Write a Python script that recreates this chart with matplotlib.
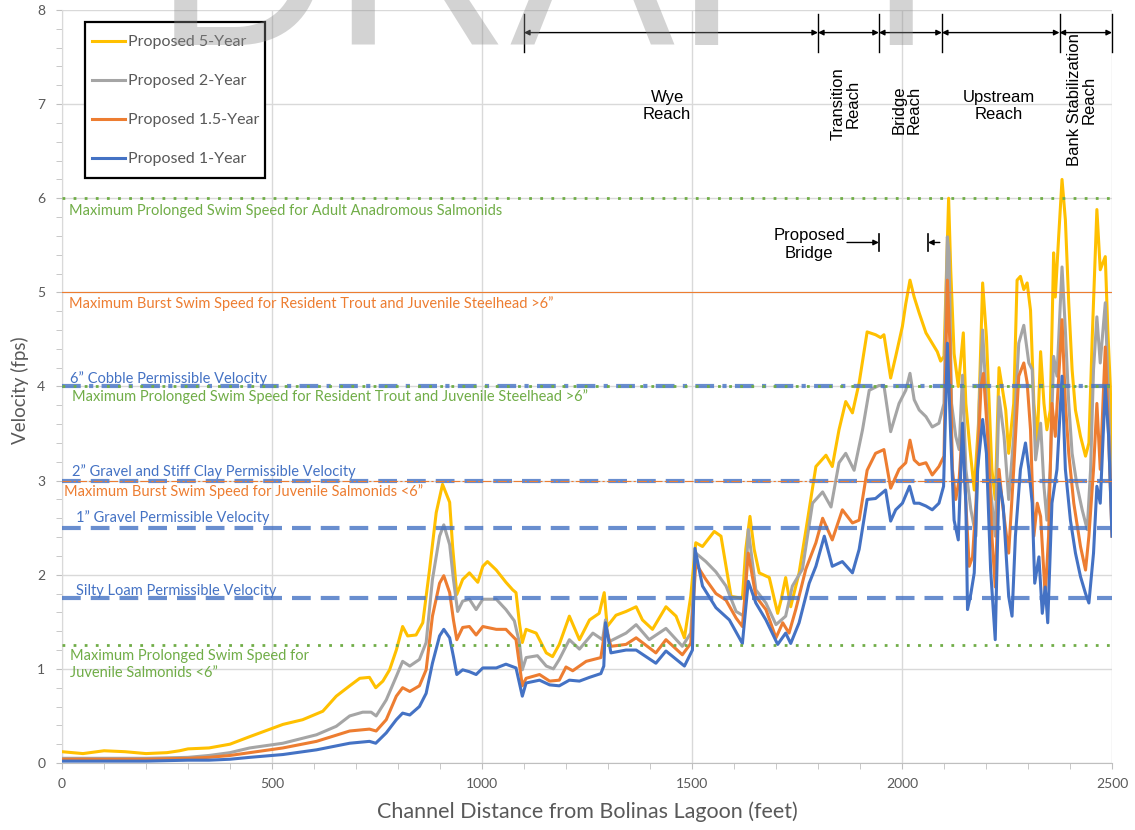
import matplotlib
matplotlib.use("Agg")
import matplotlib.pyplot as plt
from matplotlib.ticker import MultipleLocator
from matplotlib.lines import Line2D
from matplotlib.patches import Rectangle

# ---- data (feet, fps) ----
x_5yr = [0, 50, 100, 150, 200, 250, 280, 300, 350, 400, 447, 526, 573, 621, 653, 685, 709, 732, 747, 764,
         780, 796, 811, 823, 843, 859, 875, 891, 906, 923, 930, 940, 954, 970, 990, 1002, 1013, 1034, 1057,
         1073, 1081, 1089, 1096, 1105, 1129, 1153, 1168, 1184, 1208, 1232, 1256, 1279, 1291, 1298, 1319,
         1343, 1367, 1382, 1406, 1438, 1462, 1482, 1497, 1509, 1525, 1553, 1569, 1581, 1593, 1620, 1628,
         1638, 1648, 1660, 1684, 1704, 1712, 1723, 1735, 1755, 1775, 1795, 1819, 1834, 1850, 1866, 1882,
         1898, 1917, 1937, 1949, 1957, 1973, 1985, 2001, 2009, 2019, 2029, 2041, 2057, 2072, 2084, 2092,
         2100, 2106, 2111, 2116, 2124, 2134, 2146, 2152, 2162, 2172, 2182, 2192, 2201, 2214, 2222, 2231,
         2247, 2254, 2266, 2274, 2282, 2290, 2298, 2306, 2314, 2322, 2330, 2338, 2345, 2353, 2361, 2365,
         2373, 2381, 2389, 2397, 2405, 2413, 2425, 2437, 2445, 2453, 2464, 2472, 2484, 2490, 2496, 2500]
v_5yr = [0.12, 0.10, 0.13, 0.12, 0.10, 0.11, 0.13, 0.15, 0.16, 0.20, 0.28, 0.41, 0.46, 0.55, 0.71, 0.82, 0.90,
         0.91, 0.80, 0.87, 0.99, 1.20, 1.45, 1.35, 1.36, 1.49, 2.05, 2.66, 2.96, 2.77, 2.30, 1.79, 1.95, 2.02,
         1.92, 2.09, 2.14, 2.05, 1.92, 1.84, 1.81, 1.49, 1.28, 1.42, 1.38, 1.17, 1.13, 1.26, 1.56, 1.31, 1.52,
         1.59, 1.81, 1.45, 1.57, 1.61, 1.66, 1.52, 1.42, 1.66, 1.56, 1.33, 1.77, 2.34, 2.30, 2.46, 2.41, 2.09,
         1.77, 1.75, 2.27, 2.62, 2.27, 2.02, 1.97, 1.59, 1.73, 1.97, 1.66, 2.02, 2.58, 3.15, 3.27, 3.15, 3.54,
         3.84, 3.72, 4.04, 4.58, 4.55, 4.52, 4.55, 4.09, 4.32, 4.64, 4.88, 5.13, 4.95, 4.78, 4.57, 4.46, 4.37,
         4.27, 4.32, 5.24, 6.00, 5.24, 4.35, 4.00, 4.57, 3.82, 3.33, 2.90, 3.60, 5.10, 4.53, 3.12, 2.80, 4.20,
         3.75, 3.29, 3.82, 5.13, 5.17, 5.03, 5.10, 4.81, 3.82, 3.40, 4.37, 3.82, 3.54, 3.75, 5.42, 4.95, 5.59,
         6.20, 5.77, 4.89, 4.18, 3.75, 3.47, 3.26, 3.40, 4.53, 5.88, 5.24, 5.38, 4.60, 4.00, 3.05]

x_2yr = [0, 100, 200, 300, 350, 400, 447, 526, 606, 653, 685, 716, 736, 748, 772, 796, 811, 828, 851, 867,
         882, 899, 909, 923, 932, 942, 954, 970, 986, 1002, 1034, 1057, 1077, 1089, 1096, 1105, 1132, 1153,
         1170, 1184, 1208, 1232, 1264, 1287, 1294, 1303, 1343, 1367, 1398, 1438, 1477, 1497, 1509, 1533,
         1557, 1581, 1605, 1624, 1634, 1652, 1676, 1700, 1723, 1739, 1763, 1787, 1811, 1831, 1850, 1866,
         1886, 1906, 1922, 1945, 1957, 1973, 1993, 2009, 2019, 2029, 2041, 2057, 2072, 2088, 2100, 2108,
         2112, 2118, 2128, 2136, 2144, 2152, 2164, 2176, 2184, 2192, 2201, 2211, 2222, 2231, 2243, 2254,
         2266, 2278, 2290, 2302, 2310, 2318, 2330, 2338, 2345, 2353, 2361, 2369, 2381, 2389, 2397, 2405,
         2417, 2429, 2441, 2449, 2456, 2464, 2472, 2484, 2492, 2500]
v_2yr = [0.05, 0.05, 0.05, 0.06, 0.08, 0.11, 0.16, 0.21, 0.30, 0.39, 0.50, 0.54, 0.54, 0.50, 0.67, 0.92, 1.08,
         1.03, 1.10, 1.28, 1.95, 2.41, 2.53, 2.32, 1.95, 1.61, 1.72, 1.74, 1.63, 1.74, 1.74, 1.63, 1.51, 1.28,
         0.99, 1.12, 1.14, 1.03, 1.00, 1.10, 1.31, 1.21, 1.38, 1.31, 1.52, 1.29, 1.38, 1.47, 1.31, 1.43, 1.24,
         1.38, 2.23, 2.14, 2.03, 1.88, 1.61, 1.56, 2.48, 1.84, 1.70, 1.47, 1.56, 1.88, 2.06, 2.76, 2.88, 2.72,
         3.19, 3.29, 3.11, 3.54, 3.96, 4.01, 4.01, 3.52, 3.82, 3.96, 4.14, 3.86, 3.75, 3.68, 3.57, 3.61, 3.82,
         5.59, 5.42, 3.82, 3.47, 3.33, 4.12, 3.12, 2.69, 2.41, 3.82, 4.60, 3.82, 2.90, 2.41, 3.89, 3.47, 2.80,
         3.47, 4.46, 4.65, 4.25, 4.18, 3.22, 3.61, 2.94, 2.58, 3.12, 4.32, 4.11, 5.27, 4.60, 3.82, 3.29, 2.94,
         2.69, 2.48, 3.12, 4.18, 4.74, 4.25, 4.89, 3.82, 2.60]

x_15yr = [0, 200, 300, 350, 400, 447, 526, 606, 685, 732, 748, 772, 796, 811, 828, 851, 867, 882, 899, 909,
          923, 932, 940, 954, 970, 986, 1002, 1034, 1057, 1081, 1096, 1105, 1137, 1161, 1184, 1200, 1216,
          1248, 1283, 1294, 1307, 1343, 1367, 1414, 1438, 1477, 1497, 1509, 1533, 1557, 1581, 1605, 1620,
          1634, 1652, 1676, 1700, 1716, 1731, 1747, 1771, 1795, 1811, 1834, 1858, 1882, 1898, 1917, 1937,
          1957, 1973, 1993, 2009, 2019, 2029, 2041, 2057, 2072, 2088, 2100, 2108, 2114, 2120, 2128, 2136,
          2144, 2152, 2160, 2168, 2176, 2188, 2194, 2204, 2214, 2222, 2231, 2239, 2254, 2266, 2278, 2290,
          2298, 2306, 2314, 2322, 2330, 2341, 2349, 2357, 2365, 2381, 2389, 2397, 2409, 2425, 2437, 2445,
          2456, 2464, 2472, 2484, 2492, 2500]
v_15yr = [0.04, 0.04, 0.05, 0.06, 0.08, 0.11, 0.16, 0.23, 0.34, 0.36, 0.34, 0.46, 0.71, 0.80, 0.76, 0.82, 0.99,
          1.56, 1.91, 1.99, 1.81, 1.52, 1.31, 1.44, 1.45, 1.36, 1.45, 1.42, 1.42, 1.31, 0.82, 0.90, 0.94, 0.87,
          0.88, 1.02, 0.98, 1.08, 1.12, 1.45, 1.24, 1.26, 1.33, 1.17, 1.31, 1.15, 1.27, 2.12, 1.95, 1.80, 1.73,
          1.54, 1.45, 2.23, 1.77, 1.63, 1.33, 1.49, 1.38, 1.63, 2.06, 2.34, 2.60, 2.37, 2.69, 2.55, 2.58, 3.11,
          3.29, 3.33, 2.92, 3.12, 3.19, 3.43, 3.22, 3.17, 3.19, 3.06, 3.15, 3.26, 5.13, 4.46, 3.12, 2.80, 3.01,
          3.57, 2.76, 2.09, 2.19, 2.76, 4.00, 4.14, 3.47, 2.41, 1.87, 3.12, 2.76, 2.23, 3.12, 4.11, 4.25, 4.04,
          3.54, 2.41, 2.76, 2.62, 1.77, 2.41, 3.82, 3.47, 4.71, 3.82, 3.29, 2.76, 2.30, 2.05, 2.41, 3.12, 3.82,
          3.12, 4.42, 3.47, 2.41]

x_1yr = [0, 200, 300, 350, 400, 447, 526, 606, 685, 732, 747, 772, 796, 811, 828, 851, 867, 882, 899, 909,
         923, 932, 940, 954, 970, 986, 1002, 1034, 1057, 1081, 1096, 1105, 1137, 1161, 1184, 1208, 1232,
         1256, 1283, 1290, 1294, 1307, 1343, 1367, 1414, 1438, 1482, 1501, 1507, 1525, 1557, 1589, 1620,
         1634, 1652, 1676, 1704, 1723, 1735, 1755, 1779, 1795, 1815, 1834, 1858, 1882, 1898, 1917, 1937,
         1961, 1973, 1985, 2001, 2018, 2029, 2041, 2057, 2072, 2088, 2099, 2108, 2116, 2124, 2134, 2144,
         2152, 2156, 2164, 2172, 2180, 2192, 2201, 2211, 2222, 2231, 2241, 2254, 2262, 2270, 2282, 2294,
         2302, 2310, 2316, 2326, 2334, 2341, 2347, 2357, 2369, 2381, 2389, 2401, 2413, 2425, 2437, 2445,
         2456, 2464, 2472, 2484, 2492, 2500]
v_1yr = [0.02, 0.02, 0.03, 0.03, 0.04, 0.06, 0.09, 0.14, 0.21, 0.23, 0.21, 0.32, 0.46, 0.53, 0.51, 0.60, 0.74,
         1.06, 1.35, 1.42, 1.33, 1.13, 0.94, 0.99, 0.97, 0.94, 1.01, 1.01, 1.05, 1.01, 0.71, 0.85, 0.88, 0.83,
         0.82, 0.88, 0.87, 0.91, 0.95, 1.03, 1.49, 1.17, 1.20, 1.20, 1.06, 1.19, 1.03, 1.20, 2.28, 1.88, 1.65,
         1.52, 1.27, 1.93, 1.70, 1.52, 1.26, 1.38, 1.27, 1.49, 1.91, 2.09, 2.41, 2.09, 2.14, 2.02, 2.27, 2.80,
         2.81, 2.90, 2.57, 2.69, 2.76, 2.94, 2.76, 2.76, 2.73, 2.69, 2.76, 2.94, 4.46, 3.47, 2.58, 2.37, 3.61,
         2.76, 1.63, 1.80, 2.02, 3.12, 3.65, 3.29, 2.05, 1.31, 3.01, 2.73, 1.77, 1.56, 2.41, 3.12, 3.40, 3.12,
         2.76, 1.91, 2.19, 1.59, 1.87, 1.49, 2.76, 3.12, 4.11, 3.12, 2.58, 2.23, 1.98, 1.80, 1.70, 2.23, 2.94,
         2.76, 4.00, 3.47, 2.41]

series_labels = ["Proposed 5-Year", "Proposed 2-Year", "Proposed 1.5-Year", "Proposed 1-Year"]

# reference velocities
limit_values = [6.0, 5.0, 4.0, 3.0, 2.5, 1.75, 1.25]

# reach boundaries (ft)
reach_edges = [1100, 1800, 1945, 2095, 2375, 2500]
bridge_edges = [1945, 2062]

YELLOW, GRAY, ORANGE, BLUE, GREEN = "#FFC000", "#A5A5A5", "#ED7D31", "#4472C4", "#70AD47"
TXT = "#595959"
BODY = ["Lato", "DejaVu Sans"]
ARIAL = ["Liberation Sans", "DejaVu Sans"]

fig = plt.figure(figsize=(11.35, 8.3), dpi=100)
ax = fig.add_axes([62 / 1135, 1 - 763 / 830, 1050 / 1135, 753 / 830])

ax.set_xlim(0, 2500)
ax.set_ylim(0, 8)
ax.xaxis.set_major_locator(MultipleLocator(500))
ax.xaxis.set_minor_locator(MultipleLocator(100))
ax.yaxis.set_major_locator(MultipleLocator(1))
ax.yaxis.set_minor_locator(MultipleLocator(0.2))
ax.grid(True, which="major", color="#D9D9D9", lw=1, zorder=0)
for s in ["top", "right"]:
    ax.spines[s].set_visible(False)
ax.spines["left"].set_color("#D9D9D9")
ax.spines["bottom"].set_color("#BFBFBF")
ax.tick_params(which="both", colors="#BFBFBF", length=4, labelcolor=TXT, labelsize=10)
ax.tick_params(axis="y", pad=8)
ax.tick_params(axis="x", pad=7)
for lab in ax.get_xticklabels() + ax.get_yticklabels():
    lab.set_family(BODY)

# series
ax.plot(x_5yr, v_5yr, color=YELLOW, lw=2.2, zorder=3)
ax.plot(x_2yr, v_2yr, color=GRAY, lw=2.2, zorder=3)
ax.plot(x_15yr, v_15yr, color=ORANGE, lw=2.2, zorder=3)
ax.plot(x_1yr, v_1yr, color=BLUE, lw=2.2, zorder=3)

# reference lines
dash_blue = dict(color=BLUE, lw=3, alpha=0.8, dashes=(4.5, 2.4), zorder=4)
ax.axhline(limit_values[0], color=GREEN, lw=2, ls=(0, (1, 3)), zorder=4)
ax.axhline(limit_values[1], color=ORANGE, lw=0.8, zorder=4)
ax.axhline(limit_values[2], color=BLUE, lw=3, alpha=0.8, dashes=(4.5, 2, 1, 2), zorder=4)
ax.axhline(limit_values[2], color=GREEN, lw=2, ls=(0, (1, 3)), zorder=5)
ax.axhline(limit_values[3], **dash_blue)
ax.axhline(limit_values[3], color=ORANGE, lw=0.8, dashes=(8, 2, 2, 2), zorder=5)
ax.axhline(limit_values[4], **dash_blue)
ax.axhline(limit_values[5], **dash_blue)
ax.axhline(limit_values[6], color=GREEN, lw=2, ls=(0, (1, 3)), zorder=4)

fs = 10.5
ax.text(17, 5.86, "Maximum Prolonged Swim Speed for Adult Anadromous Salmonids",
        color=GREEN, fontsize=fs, family=BODY, va="center")
ax.text(17, 4.88, "Maximum Burst Swim Speed for Resident Trout and Juvenile Steelhead >6\u201d",
        color=ORANGE, fontsize=fs, family=BODY, va="center")
ax.text(19, 4.08, "6\u201d Cobble Permissible Velocity",
        color=BLUE, fontsize=fs, family=BODY, va="center")
ax.text(24, 3.89, "Maximum Prolonged Swim Speed for Resident Trout and Juvenile Steelhead >6\u201d",
        color=GREEN, fontsize=fs, family=BODY, va="center")
ax.text(24, 3.10, "2\u201d Gravel and Stiff Clay Permissible Velocity",
        color=BLUE, fontsize=fs, family=BODY, va="center")
ax.text(5, 2.88, "Maximum Burst Swim Speed for Juvenile Salmonids <6\u201d",
        color=ORANGE, fontsize=fs, family=BODY, va="center")
ax.text(33, 2.61, "1\u201d Gravel Permissible Velocity",
        color=BLUE, fontsize=fs, family=BODY, va="center")
ax.text(33, 1.83, "Silty Loam Permissible Velocity",
        color=BLUE, fontsize=fs, family=BODY, va="center")
ax.text(19, 1.05, "Maximum Prolonged Swim Speed for\nJuvenile Salmonids <6\u201d",
        color=GREEN, fontsize=fs, family=BODY, va="center", linespacing=1.25)

# reach annotations
arrow_y = 7.76
for x in reach_edges:
    ax.plot([x, x], [7.55, 7.96], color="black", lw=1, zorder=6, clip_on=False)
for a, b in zip(reach_edges[:-1], reach_edges[1:]):
    ax.annotate("", xy=(b, arrow_y), xytext=(a, arrow_y),
                arrowprops=dict(arrowstyle="<|-|>", color="black", lw=1, mutation_scale=8,
                                shrinkA=0, shrinkB=0), zorder=6)

rfs = 12
ax.text(1441, 6.98, "Wye\nReach", ha="center", va="center", fontsize=rfs, family=ARIAL)
ax.text(1866, 7.0, "Transition\nReach", ha="center", va="center", rotation=90,
        fontsize=rfs, family=ARIAL, linespacing=1.0)
ax.text(2012, 6.94, "Bridge\nReach", ha="center", va="center", rotation=90,
        fontsize=rfs, family=ARIAL, linespacing=1.0)
ax.text(2231, 6.98, "Upstream\nReach", ha="center", va="center", fontsize=rfs, family=ARIAL)
ax.text(2428, 7.05, "Bank Stabilization\nReach", ha="center", va="center", rotation=90,
        fontsize=rfs, family=ARIAL, linespacing=1.0)

# proposed bridge
by = 5.53
ax.text(1779, 5.51, "Proposed\nBridge", ha="center", va="center", fontsize=rfs, family=ARIAL)
ax.annotate("", xy=(bridge_edges[0], by), xytext=(bridge_edges[0] - 76, by),
            arrowprops=dict(arrowstyle="-|>", color="black", lw=1, mutation_scale=8,
                            shrinkA=0, shrinkB=0))
ax.annotate("", xy=(bridge_edges[1], by), xytext=(bridge_edges[1] + 28, by),
            arrowprops=dict(arrowstyle="-|>", color="black", lw=1, mutation_scale=8,
                            shrinkA=0, shrinkB=0))
for x in bridge_edges:
    ax.plot([x, x], [by - 0.09, by + 0.09], color="black", lw=1.2, zorder=6)

# legend: box drawn by hand, entries placed inside it
ax.add_patch(Rectangle((0.0219, 0.7769), 0.1714, 0.2072, transform=ax.transAxes,
                       facecolor="white", edgecolor="black", lw=1.6, zorder=6))
handles = [Line2D([], [], color=c, lw=2.2) for c in [YELLOW, GRAY, ORANGE, BLUE]]
leg = ax.legend(handles, series_labels, loc="upper left", bbox_to_anchor=(0.0286, 0.9668),
                borderaxespad=0, borderpad=0, frameon=False, handlelength=2.06,
                handletextpad=0.19, labelspacing=1.56,
                prop={"family": BODY, "size": 11.5})
for t in leg.get_texts():
    t.set_color(TXT)
leg.set_zorder(7)

# axis titles
fig.text(20 / 1135, 1 - 390 / 830, "Velocity (fps)", rotation=90, ha="center", va="center",
         fontsize=13.5, color=TXT, family=BODY)
fig.text(587 / 1135, 1 - 812 / 830, "Channel Distance from Bolinas Lagoon (feet)",
         ha="center", va="center", fontsize=15.5, color=TXT, family=BODY)

# watermark
fig.text(0.498, 1 - 45 / 830, "DRAFT", ha="center", va="baseline", fontsize=178,
         color="#8C8C8C", alpha=0.38, family=ARIAL, zorder=10)

fig.savefig("out.png", dpi=100)
